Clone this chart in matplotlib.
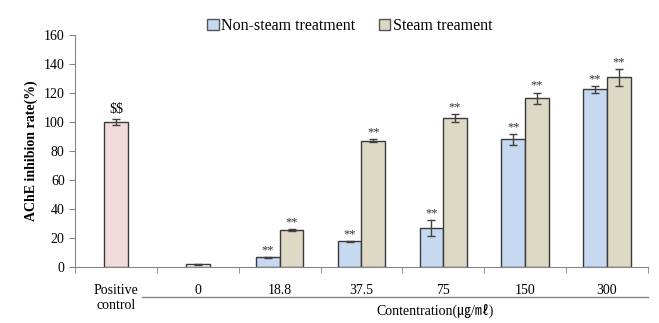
import numpy as np
import matplotlib.pyplot as plt
from matplotlib.lines import Line2D
from matplotlib.patches import Patch

plt.rcParams['font.family'] = ['Liberation Serif', 'DejaVu Serif']

labels = ['Positive\ncontrol', '0', '18.8', '37.5', '75', '150', '300']
# single bars for positive control and 0
pos_val, pos_err = 100.0, 2.3
zero_val, zero_err = 2.0, 0.5
# paired bars for the concentrations 18.8 .. 300
non_steam = [6.9, 17.9, 26.9, 88.1, 122.6]
non_steam_err = [0.4, 0.4, 5.4, 4.0, 2.3]
steam = [25.5, 87.2, 102.6, 116.4, 130.8]
steam_err = [0.8, 1.0, 2.8, 4.0, 6.0]

edge = '#3a3a3a'
err_kw = dict(ecolor='#404040', elinewidth=1, capsize=3, capthick=1)
blue = '#C6D9F1'
beige = '#DDD9C4'
pink = '#F2DCDB'

fig = plt.figure(figsize=(6.59, 3.23), dpi=100)
ax = fig.add_axes([0.114, 0.1724, 0.869, 0.7192])

w = 0.29
ax.bar(0, pos_val, w, yerr=pos_err, color=pink, edgecolor=edge, linewidth=1, error_kw=err_kw)
ax.bar(1, zero_val, w, yerr=zero_err, color='white', edgecolor=edge, linewidth=1, error_kw=err_kw)
ax.text(0, pos_val + pos_err + 2, r'\$\$', ha='center', va='bottom', fontsize=10)

x = np.arange(2, 7)
ax.bar(x - w / 2, non_steam, w, yerr=non_steam_err, color=blue, edgecolor=edge, linewidth=1, error_kw=err_kw)
ax.bar(x + w / 2, steam, w, yerr=steam_err, color=beige, edgecolor=edge, linewidth=1, error_kw=err_kw)
for xi, v, e in zip(x - w / 2, non_steam, non_steam_err):
    ax.text(xi, v + e + 0.5, '**', ha='center', va='bottom', fontsize=9, color='#333333')
for xi, v, e in zip(x + w / 2, steam, steam_err):
    ax.text(xi, v + e + 0.5, '**', ha='center', va='bottom', fontsize=9, color='#333333')

ax.set_xlim(-0.5, 6.5)
ax.set_ylim(0, 160)
ax.set_yticks(np.arange(0, 161, 20))
ax.set_xticks(np.arange(7))
ax.set_xticklabels(labels, fontsize=10)
ax.set_xticks(np.arange(-0.5, 7, 1), minor=True)
ax.tick_params(axis='x', which='major', length=0, pad=12)
ax.tick_params(axis='x', which='minor', length=4, color='#868686', direction='out')
ax.tick_params(axis='y', length=4, color='#868686', labelsize=10)
for s in ['top', 'right']:
    ax.spines[s].set_visible(False)
ax.spines['left'].set_color('#868686')
ax.spines['bottom'].set_color('#868686')

ax.set_ylabel('AChE inhibion rate(%)', fontsize=10, fontweight='bold', labelpad=4)

# line under the concentration labels
trans = ax.get_xaxis_transform()
ax.add_line(Line2D([0.32, 6.5], [-0.128, -0.128], transform=trans, color='#868686',
                   linewidth=1, clip_on=False))
ax.text(3.9, -0.188, 'Contentration(\u338d/\u3396)', transform=trans, ha='center', va='center',
        fontsize=10, family=['Liberation Serif', 'Noto Sans CJK KR'])

handles = [Patch(facecolor=blue, edgecolor='#555555', label='Non-steam treatment'),
           Patch(facecolor=beige, edgecolor='#555555', label='Steam treament')]
fig.legend(handles=handles, loc='center left', bbox_to_anchor=(0.293, 0.918), ncol=2,
           frameon=False, fontsize=11.5, handlelength=0.7, handleheight=0.7,
           handletextpad=0.15, columnspacing=1.5)

fig.savefig('out.png', dpi=100)
